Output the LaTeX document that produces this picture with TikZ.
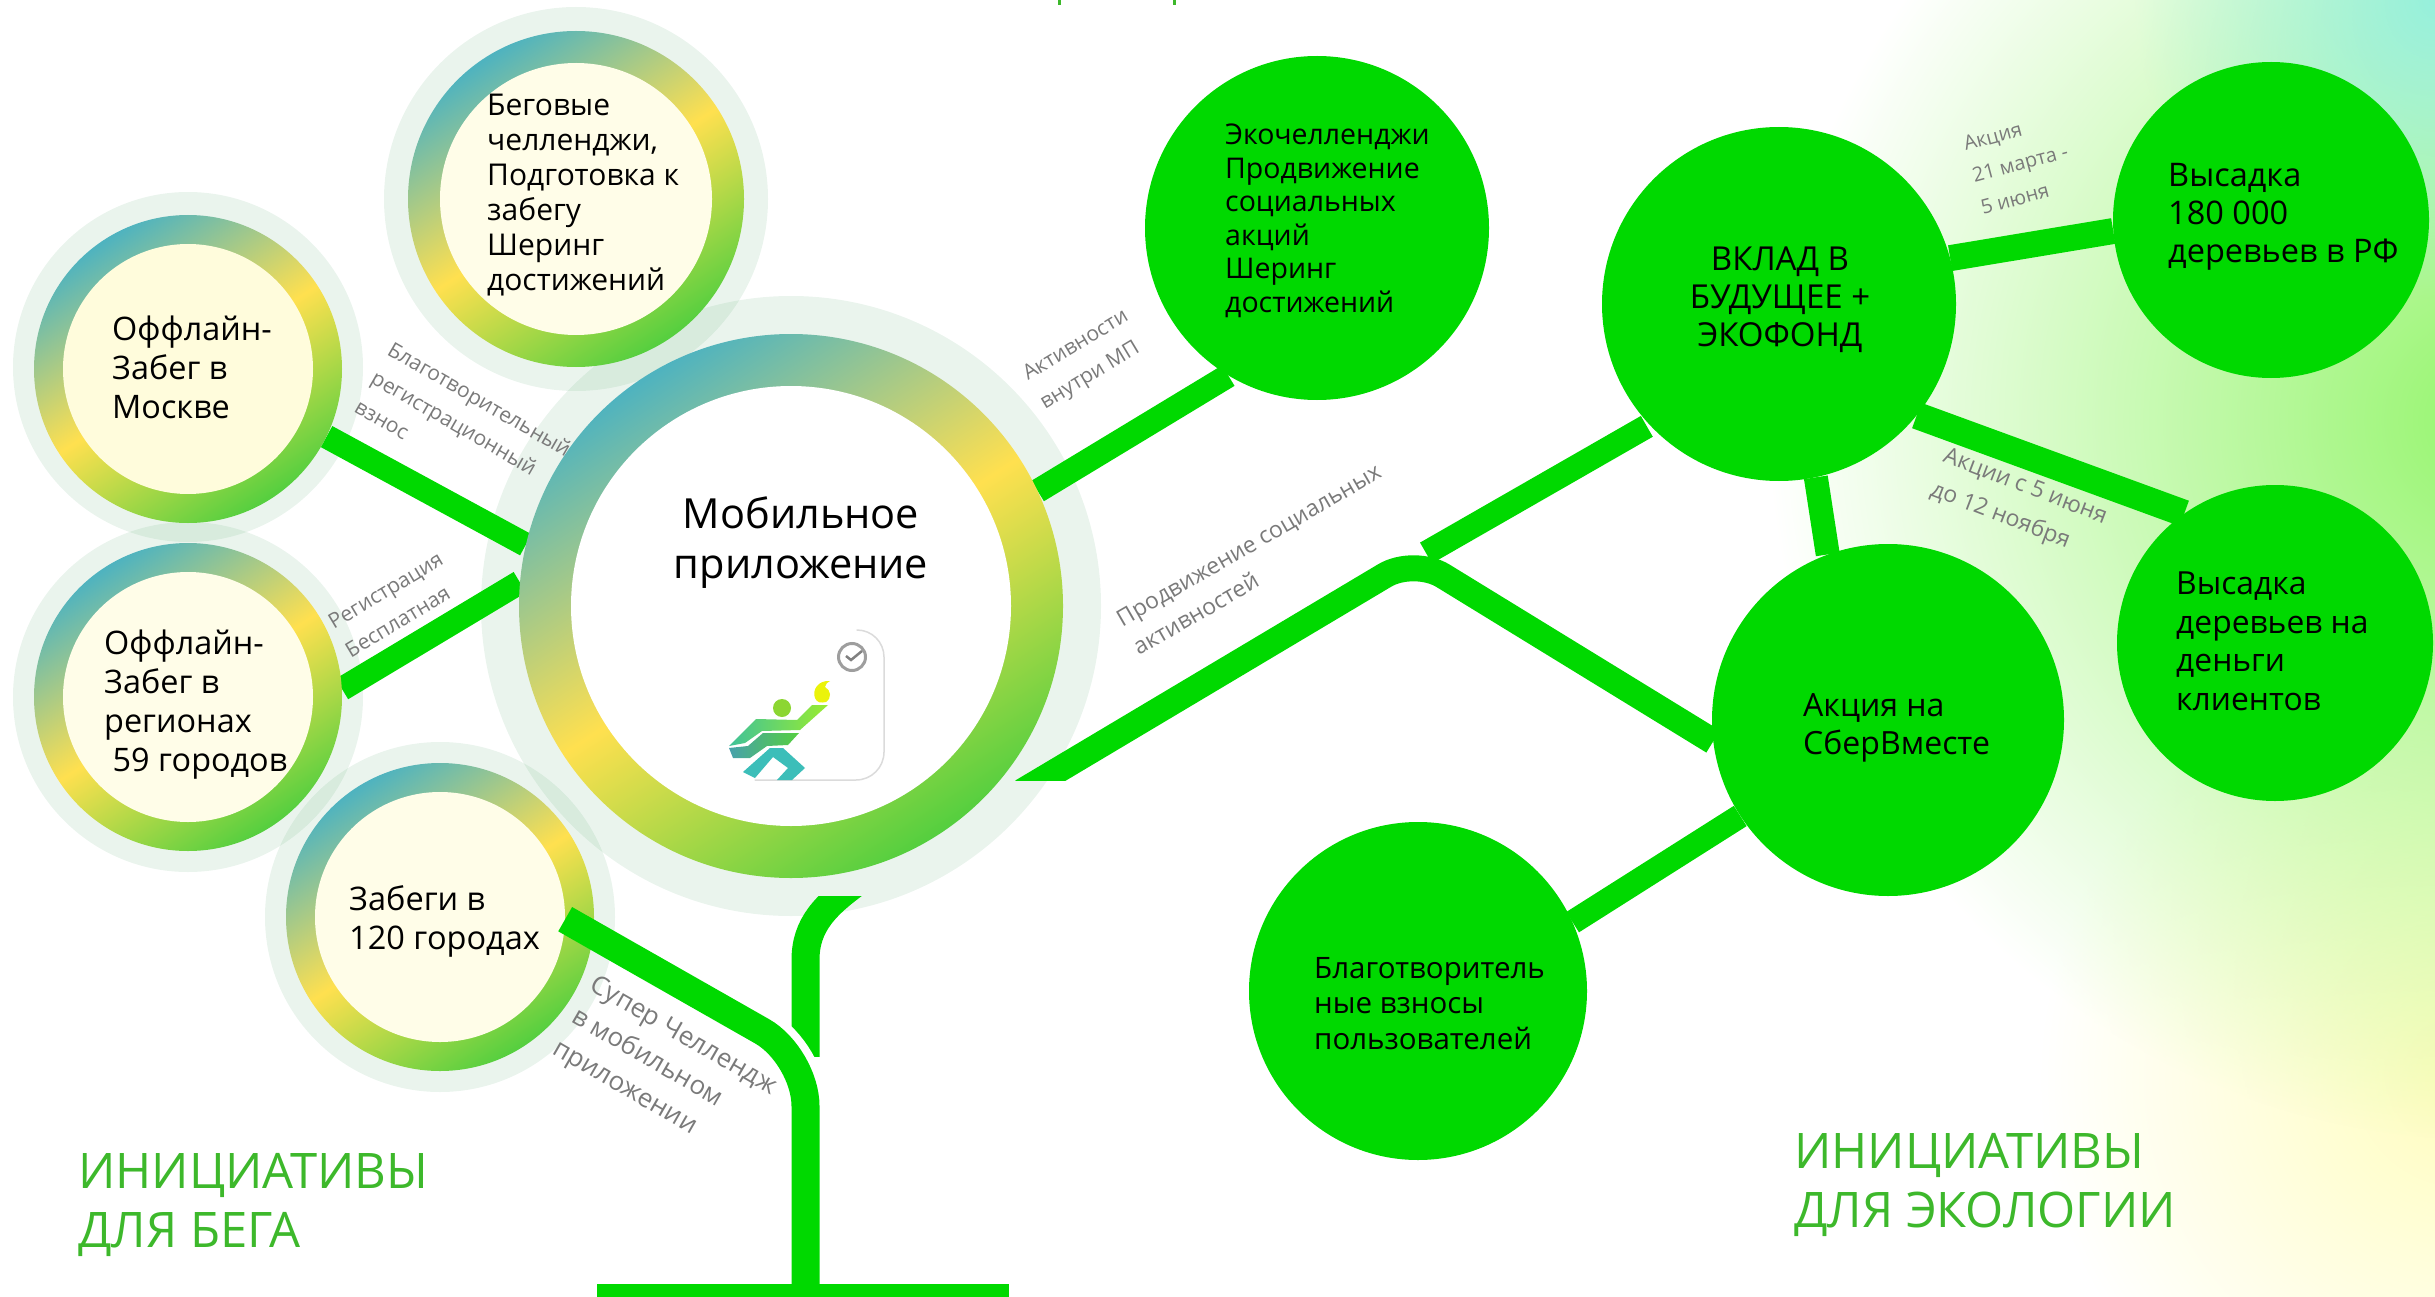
\documentclass[tikz,border=0pt]{standalone}
\usepackage{fontspec}
\setmainfont{Open Sans}
\usetikzlibrary{fadings}
\definecolor{ecogreen}{HTML}{00D900}
\definecolor{ringteal}{HTML}{4FB3BF}
\definecolor{ringyellow}{HTML}{FFE04F}
\definecolor{ringgreen}{HTML}{55CF3F}
\definecolor{creamA}{HTML}{FFFDE8}
\definecolor{creamB}{HTML}{FFFCDC}
\definecolor{titlegreen}{HTML}{3DB82B}
\tikzfading[name=glowfade, inner color=transparent!0, outer color=transparent!100]
\tikzset{
    conn/.style = {ecogreen, line width=24pt},
    halo/.style = {circle, fill={rgb,255:red,50;green,150;blue,80}, fill opacity=.10, minimum size=#1, inner sep=0pt},
    ring/.style = {circle, top color=ringteal, bottom color=ringgreen, middle color=ringyellow, shading angle=33, minimum size=#1, inner sep=0pt},
    core/.style = {circle, fill=creamA, minimum size=#1, inner sep=0pt},
    eco/.style = {circle, fill=ecogreen, minimum size=#1, inner sep=0pt},
    anchorring/.style = {circle, minimum size=#1, inner sep=0pt},
    lbl/.style 2 args = {anchor=north west, align=left, inner sep=0pt, font=\fontsize{#1}{#2}\selectfont},
    small/.style = {anchor=north west, align=left, inner sep=0pt, text=black!52, font=\fontsize{21}{33}\selectfont},
    title/.style = {anchor=north west, align=left, inner sep=0pt, text=titlegreen, font=\fontsize{49}{59}\selectfont}
}
\begin{document}
\begin{tikzpicture}[x=1pt, y=-1pt]
    \useasboundingbox (0,0) rectangle (2435,1297);
    \clip (0,0) rectangle (2435,1297);
    % background glow on the right
    \fill[color={rgb,255:red,255;green,253;blue,190}, path fading=glowfade] (2460,1080) circle (420);
    \fill[color={rgb,255:red,150;green,245;blue,110}, path fading=glowfade] (2490,420) circle (720);
    \fill[color={rgb,255:red,150;green,240;blue,220}, path fading=glowfade] (2435,0) circle (300);
    % cut-off text at the top
    \coordinate (tickA) at (1059,0);
    \coordinate (tickB) at (1174,0);
    \draw[titlegreen, line width=3pt] (tickA) -- ++(0,5);
    \draw[titlegreen, line width=3pt] (tickB) -- ++(0,5);

    % halos
    \node[halo=620] (apphalo) at (791,606) {};
    \node[halo=384] (runhalo) at (576,199) {};
    \node[halo=350] (moscowhalo) at (188,367) {};
    \node[halo=350] (regionshalo) at (188,697) {};
    \node[halo=350] (citieshalo) at (440,917) {};

    % nodes that only carry the connector ends
    \node[anchorring=544] (app) at (791,606) {};
    \node[anchorring=308] (moscow) at (188,369) {};
    \node[anchorring=308] (regions) at (188,697) {};
    \node[anchorring=344] (challenge) at (1317,228) {};
    \node[anchorring=354] (invest) at (1779,304) {};
    \node[anchorring=316] (plantA) at (2271,220) {};
    \node[anchorring=316] (plantB) at (2275,643) {};
    \node[anchorring=352] (action) at (1888,720) {};
    \node[anchorring=338] (charity) at (1418,991) {};

    \draw[conn] (moscow.-26) -- (app.167.5);
    \draw[conn] (regions.3) -- (app.175);
    \draw[conn] (app.25.6) -- (challenge.239);
    \draw[conn, line width=26pt] (invest.15) -- (plantA.184.4);
    \draw[conn, line width=27pt] (invest.-39) -- (plantB.125);
    \draw[conn] (invest.-78) -- (action.110.6);
    \draw[conn] (action.213.5) -- (charity.24.3);

    % eco circles above the connector ends
    \node[eco=344] (challengetop) at (challenge) {};
    \node[eco=354] (investtop) at (invest) {};
    \node[eco=316] (plantAtop) at (plantA) {};
    \node[eco=316] (plantBtop) at (plantB) {};
    \node[eco=352] (actiontop) at (action) {};
    \node[eco=338] (charitytop) at (charity) {};

    % running rings
    \node[ring=544] (appring) at (app) {};
    \node[core=440, fill=white] (appcore) at (app) {};
    \node[ring=336] (runring) at (576,199) {};
    \node[core=272] (run) at (runring) {};
    \node[ring=308] (moscowring) at (moscow) {};
    \node[core=250, fill=creamB] (moscowcore) at (moscow) {};
    \node[ring=308] (regionsring) at (regions) {};
    \node[core=250] (regionscore) at (regions) {};
    \node[ring=308] (citiesring) at (440,917) {};
    \node[core=250] (cities) at (citiesring) {};

    % trunk
    \coordinate (baseL) at (597,1284);
    \coordinate (baseR) at (1009,1297);
    \fill[ecogreen] (baseL) rectangle (baseR);
    \coordinate (bend) at (805.5,1056);
    \coordinate (trunkfoot) at (805.5,1290);
    \coordinate (trunktop) at (805.5,960);
    \begin{scope}
        \clip (700,896) rectangle (900,1056);
        \draw[conn, line width=28pt] (805.5,1075) -- (trunktop) .. controls (805.5,925) and (825,905) .. (860,880);
    \end{scope}
    \draw[white, line width=44pt, rounded corners=50pt] (690,991) -- (bend) -- (805.5,1130);
    \draw[conn, line width=28pt, rounded corners=50pt] (cities.-1) -- (bend) -- (trunkfoot);

    % line to the eco part
    \coordinate (startapp) at (1022,791.6);
    \coordinate (apex) at (1414,558);
    \begin{scope}
        \clip (1000,500) rectangle (1800,780);
        \draw[conn, line width=26pt, rounded corners=34pt] (startapp) -- (apex) -- (action.187);
    \end{scope}
    \coordinate (gapstart) at (1426,553);
    \draw[conn, shorten >=3pt] (gapstart) -- (invest.223.4);

    % logo
    \draw[black!14, line width=1.5pt, line cap=round] (857,630) arc[start angle=-90, end angle=0, radius=27] -- (884,752) arc[start angle=0, end angle=90, radius=28] -- (755,780);
    \node[circle, draw=black!38, line width=3pt, minimum size=27, inner sep=0pt] (sberring) at (852,657) {};
    \draw[black!50, line width=2.5pt] (846,656) -- (851,660) -- (862,651);
    \fill[color={rgb,255:red,235;green,243;blue,10}] (830,681) .. controls (818,680) and (812,690) .. (815,698) .. controls (817,703) and (821,703) .. (826,702) .. controls (832,698) and (831,690) .. (825,687) .. controls (825,684) and (828,682) .. (830,681);
    \node[circle, fill={rgb,255:red,140;green,214;blue,50}, minimum size=18, inner sep=0pt] (head) at (782,708) {};
    \shade[left color=ringteal!80!green, right color=ringyellow!60!green] (729,746) -- (756,719) -- (797,720) -- (812,705) -- (828,705) -- (800,730) -- (762,731) -- (745,743) -- cycle;
    \shade[left color=ringteal!90!black, right color=ringgreen] (729,748) -- (748,746) -- (763,733) -- (799,733) -- (788,745) -- (767,746) -- (750,758) -- (733,758) -- cycle;
    \fill[color={rgb,255:red,60;green,190;blue,185}] (743,772) -- (770,748) -- (783,748) -- (805,768) -- (792,780) -- (777,780) -- (788,768) -- (773,757) -- (755,778) -- cycle;

    % texts
    \node[lbl={41.5}{50}, align=center, anchor=north] (apptext) at (801,497) {Мобильное\\приложение};
    \node[lbl={30}{35}] (runtext) at (487,94) {Беговые\\челленджи,\\Подготовка к\\забегу\\Шеринг\\достижений};
    \node[lbl={32.4}{39}] (moscowtext) at (112,316) {Оффлайн-\\Забег в\\Москве};
    \node[lbl={32.4}{39}] (regionstext) at (104,630) {Оффлайн-\\Забег в\\регионах\\\ 59 городов};
    \node[lbl={32.5}{39}] (citiestext) at (349,885) {Забеги в\\120 городах};
    \node[lbl={28.5}{33.5}] (challengetext) at (1225,124) {Экочелленджи\\Продвижение\\социальных\\акций\\Шеринг\\достижений};
    \node[lbl={33}{38}, align=center, anchor=north] (investtext) at (1780,247) {ВКЛАД В\\БУДУЩЕЕ +\\ЭКОФОНД};
    \node[lbl={32.5}{38}] (plantAtext) at (2168,163) {Высадка\\180 000\\деревьев в РФ};
    \node[lbl={31.8}{38.4}] (plantBtext) at (2176,572) {Высадка\\деревьев на\\деньги\\клиентов};
    \node[lbl={32}{38}] (actiontext) at (1803,693) {Акция на\\СберВместе};
    \node[lbl={29.5}{35.7}] (charitytext) at (1314,957) {Благотворитель\\ные взносы\\пользователей};

    \node[small, rotate=-30] (feetext) at (394,340) {Благотворительный\\регистрационный\\взнос};
    \node[small, rotate=31] (freetext) at (326,617) {Регистрация\\Бесплатная};
    \node[small, rotate=31] (insidetext) at (1020,368) {Активности\\внутри МП};
    \node[small, rotate=30, font=\fontsize{23}{33}\selectfont] (promotext) at (1114,613) {Продвижение социальных\\активностей};
    \node[small, rotate=-30, font=\fontsize{26}{37}\selectfont] (supertext) at (598,973) {Супер Челлендж\\в мобильном\\приложении};
    \node[small, rotate=15, font=\fontsize{20}{33}\selectfont] (datesA) at (1962,137) {Акция\\21 марта -\\5 июня};
    \node[small, rotate=-21, font=\fontsize{23}{36}\selectfont] (datesB) at (1948,446) {Акции с 5 июня\\до 12 ноября};

    \node[title] (titlerun) at (78,1153) {ИНИЦИАТИВЫ\\ДЛЯ БЕГА};
    \node[title] (titleeco) at (1794,1133) {ИНИЦИАТИВЫ\\ДЛЯ ЭКОЛОГИИ};
\end{tikzpicture}
\end{document}
